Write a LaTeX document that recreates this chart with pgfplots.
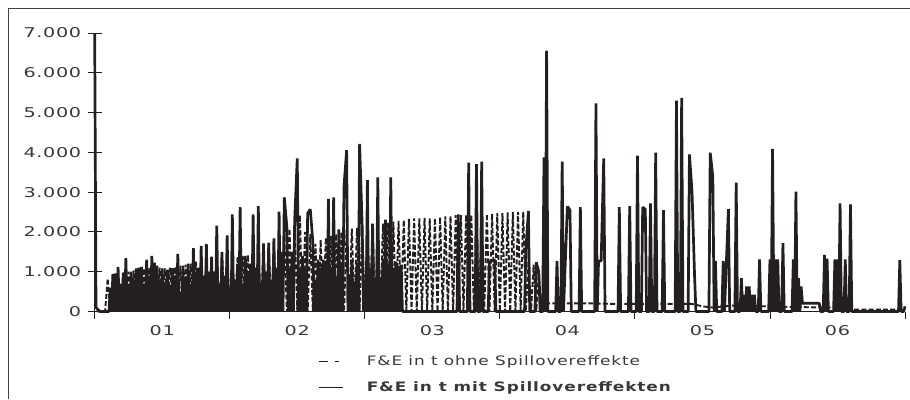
\documentclass[border=0pt]{standalone}
\usepackage{fontspec}
\setmainfont[FakeStretch=1.3,LetterSpace=7]{DejaVu Sans}
\newfontfamily\tickfont[FakeStretch=1.42,LetterSpace=5]{DejaVu Sans}
\usepackage{pgfplots}
\pgfplotsset{compat=1.18}
\definecolor{ink}{HTML}{231F20}
\definecolor{txt}{HTML}{3A3839}
\begin{document}
\begin{tikzpicture}
\path[use as bounding box] (-94.7pt,-87.5pt) rectangle (815.3pt,311.5pt);
\draw[color=ink!85,line width=1.4pt] (-86.2pt,-87.5pt) -- (-86.2pt,303pt) -- (815.3pt,303pt);
\begin{axis}[
  scale only axis, width=810.3pt, height=278.5pt,
  xmin=0, xmax=312, ymin=0, ymax=7000,
  axis x line=bottom, axis y line=left,
  axis line style={-, color=ink, line width=1pt},
  y axis line style={line width=1.6pt},
  clip=false,
  tick align=outside, major tick length=7pt,
  tick style={color=ink, line width=0.9pt},
  xtick={0,52,104,156,208,260,312},
  xticklabels={01,02,03,04,05,06},
  x tick label as interval,
  ytick={0,1000,...,7000},
  extra y ticks={0,1000,...,7000},
  extra y tick labels={},
  extra y tick style={tick align=inside},
  /pgf/number format/.cd, 1000 sep={.}, assume math mode=true,
  /pgfplots/.cd,
  tick label style={font=\tickfont\fontsize{13.5}{15}\selectfont, color=txt},
  yticklabel style={xshift=-3pt},
  xticklabel style={yshift=-3pt},
  legend cell align=left,
  legend style={at={(0.272,-0.145)}, anchor=north west, draw=none, fill=none,
    font=\fontsize{13}{15}\selectfont, text=txt,
    row sep=10pt},
  legend image code/.code={\path[draw=none] (0pt,0pt) -- (46pt,0pt);\draw[#1] (0pt,0pt) -- (24pt,0pt);},
]
\addlegendimage{color=ink, line width=0.8pt, dash pattern=on 9pt off 7pt on 4pt off 20pt}
\addlegendentry{F\&E in t ohne Spillovereffekte}
\addlegendimage{color=ink, line width=1pt}
\addlegendentry{\textbf{F\&E in t mit Spillovereffekten}}
% ohne Spillovereffekte
\addplot[forget plot, color=ink, line width=1.9pt, dash pattern=on 5pt off 2.2pt, line join=bevel] coordinates {
(0,200)(1,0)(4,0)(5,830)(6,0)(7,900)(8,0)(9,950)(10,0)(11,980)(12,0)(13,1000)(14,0)(15,1030)(16,0)(17,1050)(18,0)(19,1080)(20,0)(21,1100)(22,0)(23,1120)(24,0)(25,1100)(26,0)(27,1080)(28,0)(29,1100)(30,0)(31,1120)(32,0)(33,1150)(34,0)(35,1180)(36,0)(37,1200)(38,0)(39,1250)(40,0)(41,1300)(42,0)(43,1350)(44,0)(45,1380)(46,0)(47,1420)(48,0)(49,1450)(50,0)(51,1480)(52,0)(53,1300)(54,0)(55,1380)(56,0)(57,1400)(58,0)(59,1420)(60,0)(61,1450)(62,0)(63,1500)(64,0)(65,1600)(66,0)(67,1680)(68,0)(69,1750)(70,0)(71,1800)(72,0)(73,1950)(74,0)(75,2080)(76,0)(77,2100)(78,0)(79,2420)(80,0)(81,2000)(82,0)(83,1950)(84,0)(85,1700)(86,0)(87,1800)(88,0)(89,1850)(90,0)(91,1900)(92,0)(93,1950)(94,0)(95,2000)(96,0)(97,2050)(98,0)(99,2080)(100,0)(101,2100)(102,0)(103,2120)(104,0)(105,2140)(106,0)(107,2160)(108,0)(109,2190)(110,0)(111,2210)(112,0)(113,2230)(114,0)(115,2260)(116,0)(117,2280)(118,0)(119,2300)(120,0)(121,2330)(122,0)(123,2340)(124,0)(125,2340)(126,0)(127,2350)(128,0)(129,2340)(130,0)(131,2340)(132,0)(133,2370)(134,0)(135,2390)(136,0)(137,2400)(138,0)(139,2420)(140,0)(141,2420)(142,0)(143,2430)(144,0)(145,2430)(146,0)(147,2440)(148,0)(149,2450)(150,0)(151,2450)(152,0)(153,2460)(154,0)(155,2470)(156,0)(157,2480)(158,0)(159,2490)(160,0)(161,2500)(162,0)(163,2500)(164,0)(165,2510)(166,0)(167,1240)(168,0)(169,1180)(170,0)(171,900)(172,205)(190,205)(200,190)(215,190)(230,190)(234,130)(238,100)(245,150)(265,120)(280,100)(288,100)(292,50)(312,50)
};
% mit Spillovereffekten
\addplot[color=ink, line width=2.7pt, line join=bevel, forget plot] coordinates {
(0,7000)(0.5,100)(2,0)(5.5,0)(6,600)(6.5,0)(7,942)(7.5,0)(8,960)(8.5,0)(9,1120)(9.5,0)(10,700)(10.5,0)(11,960)(11.5,0)(12,1340)(12.5,0)(13,600)(13.5,0)(14,1000)(14.5,0)(15,800)(15.5,0)(16,1080)(16.5,0)(17,1100)(17.5,0)(18,1120)(18.5,0)(19,700)(19.5,0)(20,1300)(20.5,0)(21,900)(21.5,0)(22,1400)(22.5,0)(23,1230)(23.5,0)(24,1150)(24.5,0)(25,800)(25.5,0)(26,1080)(26.5,0)(27,700)(27.5,0)(28,1050)(28.5,0)(29,650)(29.5,0)(30,1090)(30.5,0)(31,800)(31.5,0)(32,1450)(32.5,0)(33,500)(33.5,0)(34,1150)(34.5,0)(35,800)(35.5,0)(36,1200)(36.5,0)(37,700)(37.5,0)(38,1590)(38.5,0)(39,1000)(39.5,0)(40,1100)(40.5,0)(41,1650)(41.5,0)(42,900)(42.5,0)(43,1700)(43.5,0)(44,1000)(44.5,0)(45,1370)(45.5,0)(46,1000)(46.5,0)(47,2160)(47.5,0)(48,700)(48.5,0)(49,1500)(49.5,0)(50,900)(50.5,0)(51,1910)(51.5,0)(52,600)(52.5,0)(53,2440)(53.5,0)(54,800)(54.5,0)(55,1200)(55.5,0)(56,2620)(56.5,0)(57,700)(57.5,0)(58,1400)(58.5,0)(59,1000)(59.5,0)(60,1200)(60.5,0)(61,2440)(61.5,0)(62,1100)(62.5,0)(63,2650)(63.5,0)(64,700)(64.5,0)(65,1710)(65.5,0)(66,1000)(66.5,0)(67,1730)(67.5,0)(68,800)(68.5,0)(69,1840)(69.5,0)(70,1100)(70.5,0)(71,2510)(71.5,0)(72,1500)(72.5,0)(73,2870)(74,2115)(74.5,0)(75,1100)(75.5,0)(76,1500)(76.5,0)(77,2300)(78,3850)(78.5,0)(79,1100)(79.5,0)(80,1400)(80.5,0)(81,1100)(81.5,0)(82,2470)(83,2570)(84,1750)(84.5,0)(85,800)(85.5,0)(86,1300)(86.5,0)(87,1100)(87.5,0)(88,1300)(88.5,0)(89,1200)(89.5,0)(90,2830)(90.5,0)(91,1100)(91.5,0)(92,2870)(92.5,0)(93,900)(93.5,0)(94,2065)(94.5,0)(95,1200)(95.5,0)(96,3150)(97,4055)(97.5,0)(98,900)(98.5,0)(99,1300)(99.5,0)(100,700)(100.5,0)(101,1200)(101.5,0)(102,4210)(103,2115)(103.5,0)(104,800)(104.5,0)(105,3300)(105.5,0)(106,1100)(106.5,0)(107,2210)(107.5,0)(108,800)(108.5,0)(109,3370)(109.5,0)(110,800)(110.5,0)(111,1300)(111.5,0)(112,2310)(112.5,0)(113,1200)(113.5,0)(114,3370)(114.5,0)(115,1100)(115.5,0)(116,1250)(116.5,0)(117,1150)(117.5,0)(118,1170)(118.5,0)(139.5,0)(140,2440)(140.5,0)(143.5,0)(144,3740)(144.5,0)(146.5,0)(147,3705)(147.5,0)(148.5,0)(149,3765)(149.5,0)(151.5,0)(152,1250)(153,1270)(154,1300)(154.5,0)(165.5,0)(166,1540)(167,2530)(167.5,0)(169.5,0)(170,1240)(171,1000)(171.5,0)(172.5,0)(173,3875)(173.5,0)(174,6560)(174.5,0)(177.5,0)(178,1270)(178.5,0)(179.5,0)(180,3770)(180.5,0)(182,2640)(183,2550)(183.5,0)(186.5,0)(187,2620)(187.5,0)(192.5,0)(193,5230)(193.5,0)(194,1270)(195,1270)(196,3850)(196.5,0)(201.5,0)(202,2620)(202.5,0)(205.5,0)(206,2650)(206.5,0)(208.5,0)(209,3920)(209.5,0)(210.5,0)(211,2620)(212,2570)(212.5,0)(213.5,0)(214,2720)(214.5,0)(215.5,0)(216,3990)(216.5,0)(218.5,0)(219,2550)(219.5,0)(223.5,0)(224,5300)(224.5,0)(225.5,0)(226,5370)(226.5,0)(228.5,0)(229,3950)(230,3000)(231,840)(231.5,0)(236.5,0)(237,3990)(238,3390)(238.5,0)(239,1270)(239.5,0)(241.5,0)(242,1270)(242.5,0)(244,2570)(244.5,0)(246.5,0)(247,3240)(247.5,0)(248.5,0)(249,840)(249.5,0)(250,420)(250.5,0)(251,630)(251.5,0)(252,630)(252.5,0)(253,420)(253.5,0)(254,420)(254.5,0)(255.5,0)(256,1310)(256.5,0)(259.5,0)(260,1310)(260.5,0)(261,4090)(261.5,0)(262,1310)(262.5,0)(263,1310)(263.5,0)(264.5,0)(265,1720)(265.5,0)(268.5,0)(269,1310)(269.5,0)(270,3010)(270.5,0)(271,840)(271.5,0)(272,630)(272.5,205)(279,205)(279.5,0)(280.5,0)(281,1420)(281.5,0)(282,1330)(282.5,0)(284.5,0)(285,1310)(285.5,0)(286,1310)(286.5,0)(287,2720)(287.5,0)(288.5,0)(289,1310)(289.5,0)(290.5,0)(291,2690)(291.5,0)(309.5,0)(310,1290)(310.5,0)(311.5,0)(312,130)
};
\end{axis}
\end{tikzpicture}
\end{document}
